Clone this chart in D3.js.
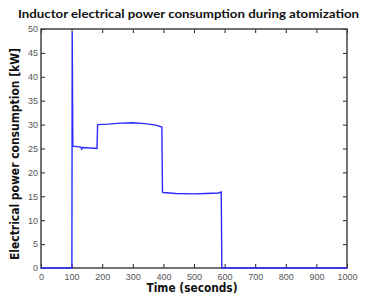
<!DOCTYPE html>
<html>
<head>
<meta charset="utf-8">
<script src="https://cdn.jsdelivr.net/npm/d3@7"></script>
<style>
  body { margin: 0; background: #fff; }
  svg { display: block; }
</style>
</head>
<body>
<div id="chart"></div>
<script>
// --- DATA ---
const timeS = [0, 98, 101, 102, 104, 130, 133, 136, 160, 183, 185, 220, 260, 300, 340, 375, 395, 397, 400, 440, 500, 540, 580, 589, 591, 594, 700, 1000];
const powerKW = [0, 0, 0, 49.3, 25.5, 25.3, 24.9, 25.2, 25.1, 25.0, 30.0, 30.1, 30.3, 30.4, 30.2, 29.9, 29.5, 15.9, 15.8, 15.6, 15.5, 15.6, 15.7, 15.9, 0, 0, 0, 0];
const xTicks = [0, 100, 200, 300, 400, 500, 600, 700, 800, 900, 1000];
const yTicks = [0, 5, 10, 15, 20, 25, 30, 35, 40, 45, 50];

// --- SETUP ---
const width = 368, height = 300;
const margin = {top: 29, right: 21, bottom: 32, left: 41};

const svg = d3.select("#chart").append("svg")
    .attr("width", width)
    .attr("height", height);

const x = d3.scaleLinear().domain([0, 1000]).range([margin.left, width - margin.right]);
const y = d3.scaleLinear().domain([0, 50]).range([height - margin.bottom, margin.top]);

const axisColor = "#444";
const tickFont = "Liberation Sans, Arial, sans-serif";

// --- AXES (ticks inward, box on all sides) ---
function styleAxis(g, showLabels) {
    g.select(".domain").remove();
    g.selectAll(".tick line").attr("stroke", "#222").attr("stroke-width", 1);
    g.selectAll(".tick text")
        .attr("fill", "#555")
        .attr("font-size", "9px")
        .attr("font-family", tickFont);
    if (!showLabels) g.selectAll(".tick text").remove();
}

svg.append("g")
    .attr("transform", `translate(0,${y(0)})`)
    .call(d3.axisBottom(x).tickValues(xTicks).tickFormat(d3.format("d")).tickSize(-4).tickPadding(6))
    .call(g => styleAxis(g, true));

svg.append("g")
    .attr("transform", `translate(0,${y(50)})`)
    .call(d3.axisTop(x).tickValues(xTicks).tickSize(-4))
    .call(g => styleAxis(g, false));

svg.append("g")
    .attr("transform", `translate(${x(0)},0)`)
    .call(d3.axisLeft(y).tickValues(yTicks).tickSize(-4).tickPadding(3))
    .call(g => styleAxis(g, true));

svg.append("g")
    .attr("transform", `translate(${x(1000)},0)`)
    .call(d3.axisRight(y).tickValues(yTicks).tickSize(-4))
    .call(g => styleAxis(g, false));

svg.append("rect")
    .attr("x", x(0))
    .attr("y", y(50))
    .attr("width", x(1000) - x(0))
    .attr("height", y(0) - y(50))
    .attr("fill", "none")
    .attr("stroke", axisColor)
    .attr("stroke-width", 1.5);

// --- LINE ---
const line = d3.line()
    .x((d, i) => x(timeS[i]))
    .y(d => y(d));

svg.append("path")
    .datum(powerKW)
    .attr("d", line)
    .attr("fill", "none")
    .attr("stroke", "#2a2aff")
    .attr("stroke-width", 1.4);

// --- LABELS ---
const labelFont = "DejaVu Sans, Verdana, sans-serif";

svg.append("text")
    .attr("x", 18)
    .attr("y", 18)
    .attr("textLength", 341)
    .attr("lengthAdjust", "spacingAndGlyphs")
    .attr("font-family", "Lato, sans-serif")
    .attr("font-weight", "bold")
    .attr("font-size", "12px")
    .attr("fill", "#111")
    .text("Inductor electrical power consumption during atomization");

svg.append("text")
    .attr("x", 192)
    .attr("y", 292)
    .attr("text-anchor", "middle")
    .attr("textLength", 91)
    .attr("lengthAdjust", "spacingAndGlyphs")
    .attr("font-family", labelFont)
    .attr("font-weight", "bold")
    .attr("font-size", "12px")
    .attr("fill", "#111")
    .text("Time (seconds)");

svg.append("text")
    .attr("transform", "translate(19,154) rotate(-90)")
    .attr("text-anchor", "middle")
    .attr("textLength", 212)
    .attr("lengthAdjust", "spacingAndGlyphs")
    .attr("font-family", labelFont)
    .attr("font-weight", "bold")
    .attr("font-size", "11.5px")
    .attr("fill", "#111")
    .text("Electrical power consumption [kW]");
</script>
</body>
</html>
